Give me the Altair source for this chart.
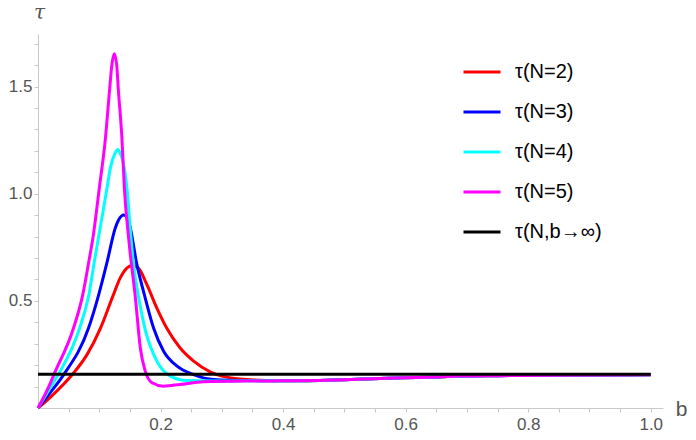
import altair as alt
import pandas as pd

# legend entries and their colours, in drawing order
names = ["τ(N=2)", "τ(N=3)", "τ(N=4)", "τ(N=5)", "τ(N,b→∞)"]
colors = ["#ff0000", "#0000ff", "#00ffff", "#ff00ff", "#000000"]

# slow common tail that all four finite-N curves share for b > 0.4
b_tail = [0.412, 0.5, 0.558, 0.64, 0.689, 0.75, 0.852, 1.0]
tau_tail = [0.127, 0.132, 0.138, 0.144, 0.149, 0.151, 0.153, 0.155]

# N = 2
b_n2 = [0, 0.020, 0.056, 0.080, 0.102, 0.123, 0.134, 0.145, 0.153, 0.164, 0.177,
        0.194, 0.210, 0.232, 0.254, 0.281, 0.308, 0.346]
tau_n2 = [0, 0.050, 0.156, 0.249, 0.373, 0.528, 0.606, 0.653, 0.665, 0.652, 0.580,
          0.466, 0.373, 0.280, 0.219, 0.169, 0.144, 0.132]

# N = 3
b_n3 = [0, 0.020, 0.042, 0.0825, 0.099, 0.113, 0.126, 0.1315, 0.140, 0.148, 0.1615,
        0.175, 0.1886, 0.205, 0.227, 0.254, 0.286, 0.346]
tau_n3 = [0, 0.072, 0.156, 0.373, 0.528, 0.684, 0.839, 0.877, 0.900, 0.870, 0.668,
          0.513, 0.373, 0.265, 0.195, 0.156, 0.133, 0.128]

# N = 4
b_n4 = [0, 0.020, 0.033, 0.068, 0.083, 0.092, 0.099, 0.1126, 0.118, 0.126, 0.130,
        0.134, 0.141, 0.146, 0.151, 0.156, 0.164, 0.175, 0.194, 0.216, 0.243, 0.286, 0.346]
tau_n4 = [0, 0.095, 0.156, 0.373, 0.528, 0.684, 0.800, 1.025, 1.118, 1.190, 1.206,
          1.190, 1.118, 1.000, 0.820, 0.668, 0.520, 0.365, 0.219, 0.149, 0.128, 0.126, 0.127]

# N = 5
b_n5 = [0, 0.020, 0.026, 0.058, 0.073, 0.083, 0.090, 0.100, 0.110, 0.117, 0.1205,
        0.1245, 0.1285, 0.131, 0.137, 0.141, 0.148, 0.159, 0.167, 0.175, 0.186,
        0.205, 0.232, 0.270, 0.346]
tau_n5 = [0, 0.115, 0.156, 0.373, 0.528, 0.684, 0.800, 1.025, 1.257, 1.490, 1.600,
          1.653, 1.600, 1.490, 1.257, 1.025, 0.790, 0.513, 0.280, 0.172, 0.118,
          0.102, 0.110, 0.122, 0.126]

# b -> infinity limit
b_inf = [0.0, 1.0]
tau_inf = [0.157, 0.157]

x_ticks = [0.05, 0.1, 0.15, 0.2, 0.25, 0.3, 0.35, 0.4, 0.45, 0.5,
           0.55, 0.6, 0.65, 0.7, 0.75, 0.8, 0.85, 0.9, 0.95, 1.0]
y_ticks = [0.1, 0.2, 0.3, 0.4, 0.5, 0.6, 0.7, 0.8, 0.9, 1.0,
           1.1, 1.2, 1.3, 1.4, 1.5, 1.6, 1.7]

series_b = [b_n2 + b_tail, b_n3 + b_tail, b_n4 + b_tail, b_n5 + b_tail, b_inf]
series_tau = [tau_n2 + tau_tail, tau_n3 + tau_tail, tau_n4 + tau_tail, tau_n5 + tau_tail, tau_inf]

rows = []
for name, bs, ts in zip(names, series_b, series_tau):
    for b, t in zip(bs, ts):
        rows.append({"b": b, "tau": t, "series": name})
df = pd.DataFrame(rows)

font = "Liberation Sans"
axis_grey = "#c8c8c8"
label_grey = "#555555"

x_axis = alt.Axis(
    values=x_ticks,
    labelExpr="abs(datum.value*5 - round(datum.value*5)) < 1e-6 ? format(datum.value, '.1f') : ''",
    labelOverlap=False, labelFlush=False,
    labelPadding=4, tickSize=4, grid=False,
    title="b", titleX=643, titleY=7, titleAlign="center", titleBaseline="alphabetic",
    titleFontSize=21, titleColor=label_grey, titleFontWeight="normal", titleFont=font,
)
y_axis = alt.Axis(
    values=y_ticks,
    labelExpr="abs(datum.value*2 - round(datum.value*2)) < 1e-6 ? format(datum.value, '.1f') : ''",
    labelOverlap=False, labelFlush=False,
    labelPadding=2, tickSize=4, grid=False,
    title="τ", titleAngle=0, titleX=1, titleY=-16, titleAlign="center", titleBaseline="alphabetic",
    titleFontSize=20, titleColor=label_grey, titleFontWeight="normal", titleFont="DejaVu Serif",
    titleFontStyle="italic",
)

legend = alt.Legend(
    title=None, orient="none", legendX=424, legendY=18, direction="vertical",
    symbolType="stroke", symbolSize=1369, symbolStrokeWidth=3,
    labelFont=font, labelFontSize=20, labelColor="#000000", labelOffset=13,
    labelLimit=300, rowPadding=10, padding=0,
)

chart = alt.Chart(df).mark_line(strokeWidth=3, interpolate="monotone").encode(
    x=alt.X("b:Q", scale=alt.Scale(domain=[0, 1.02], nice=False), axis=x_axis),
    y=alt.Y("tau:Q", scale=alt.Scale(domain=[0, 1.745], nice=False), axis=y_axis),
    color=alt.Color("series:N", scale=alt.Scale(domain=names, range=colors), sort=names, legend=legend),
).properties(
    width=625, height=374,
    autosize=alt.AutoSizeParams(type="none"),
    padding={"left": 30, "top": 26, "right": 25, "bottom": 24},
).configure_axis(
    domainColor=axis_grey, tickColor=axis_grey, labelColor=label_grey,
    labelFont=font, labelFontSize=17,
).configure_view(stroke=None)

chart.save("out.html", embed_options={"renderer": "svg", "actions": False})
